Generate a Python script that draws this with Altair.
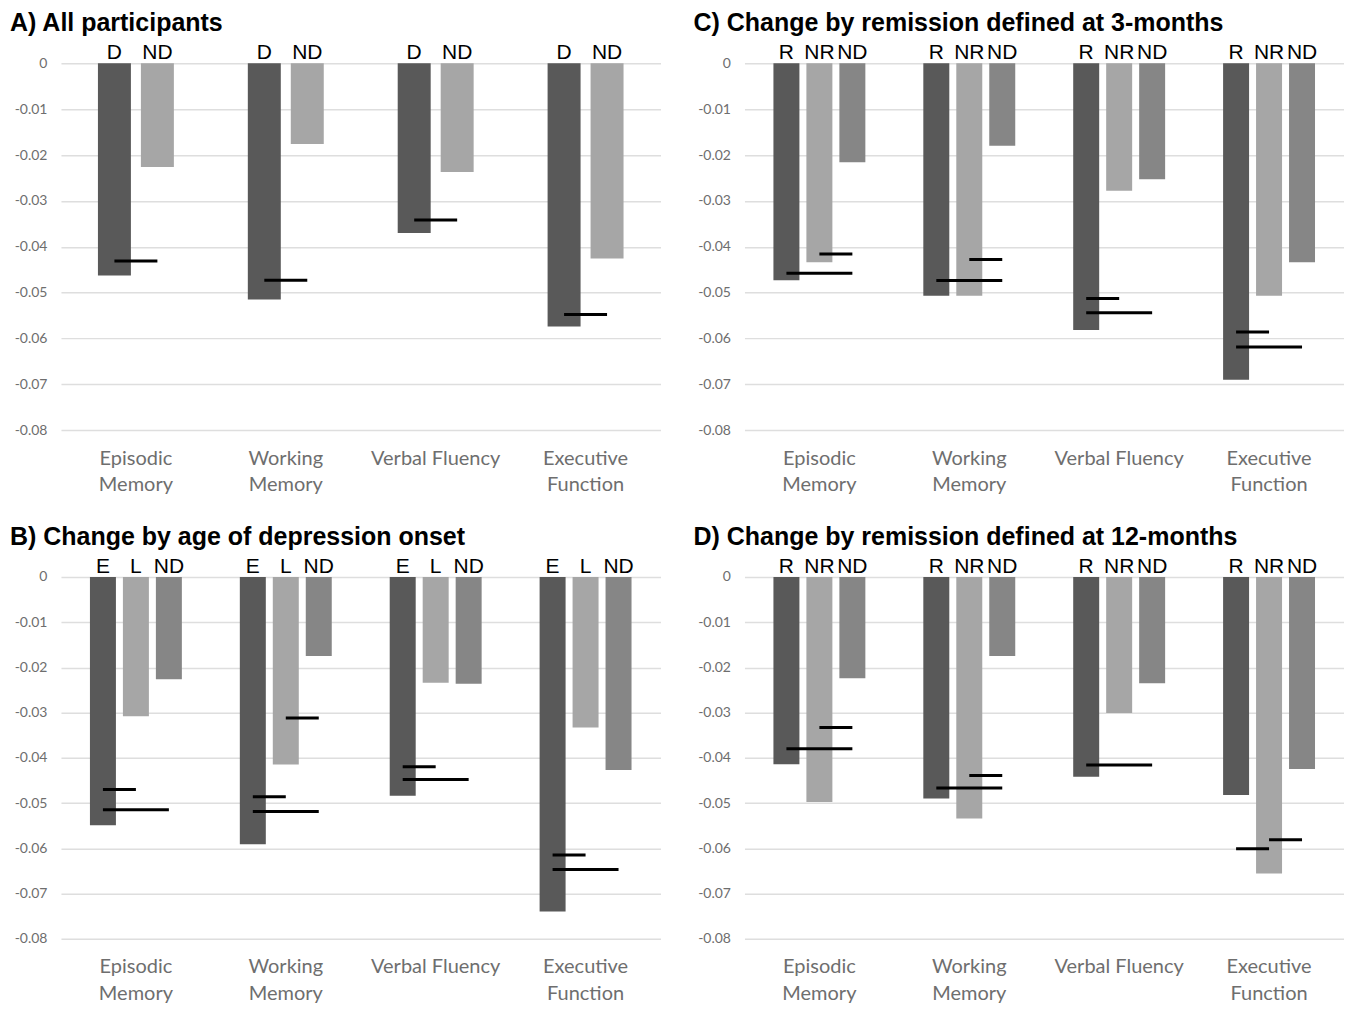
import altair as alt
import pandas as pd

categories = ["Episodic Memory", "Working Memory", "Verbal Fluency", "Executive Function"]

# Panel A: All participants
a_title = "A) All participants"
a_groups = ["D", "ND"]
a_D = [-0.0463, -0.0515, -0.0370, -0.0574]
a_ND = [-0.0226, -0.0176, -0.0237, -0.0426]
a_lines = [
    ("Episodic Memory", "D", "ND", -0.0431),
    ("Working Memory", "D", "ND", -0.0473),
    ("Verbal Fluency", "D", "ND", -0.0342),
    ("Executive Function", "D", "ND", -0.0548),
]

# Panel B: Change by age of depression onset
b_title = "B) Change by age of depression onset"
b_groups = ["E", "L", "ND"]
b_E = [-0.0549, -0.0591, -0.0484, -0.0740]
b_L = [-0.0308, -0.0415, -0.0234, -0.0333]
b_ND = [-0.0226, -0.0175, -0.0236, -0.0427]
b_lines = [
    ("Episodic Memory", "E", "L", -0.0470),
    ("Episodic Memory", "E", "ND", -0.0515),
    ("Working Memory", "E", "L", -0.0486),
    ("Working Memory", "E", "ND", -0.0519),
    ("Working Memory", "L", "ND", -0.0312),
    ("Verbal Fluency", "E", "L", -0.0420),
    ("Verbal Fluency", "E", "ND", -0.0448),
    ("Executive Function", "E", "L", -0.0615),
    ("Executive Function", "E", "ND", -0.0647),
]

# Panel C: Change by remission defined at 3-months
c_title = "C) Change by remission defined at 3-months"
c_groups = ["R", "NR", "ND"]
c_R = [-0.0473, -0.0507, -0.0582, -0.0690]
c_NR = [-0.0434, -0.0507, -0.0278, -0.0507]
c_ND = [-0.0216, -0.0180, -0.0253, -0.0434]
c_lines = [
    ("Episodic Memory", "NR", "ND", -0.0416),
    ("Episodic Memory", "R", "ND", -0.0458),
    ("Working Memory", "NR", "ND", -0.0428),
    ("Working Memory", "R", "ND", -0.0474),
    ("Verbal Fluency", "R", "NR", -0.0513),
    ("Verbal Fluency", "R", "ND", -0.0544),
    ("Executive Function", "R", "NR", -0.0586),
    ("Executive Function", "R", "ND", -0.0619),
]

# Panel D: Change by remission defined at 12-months
d_title = "D) Change by remission defined at 12-months"
d_groups = ["R", "NR", "ND"]
d_R = [-0.0414, -0.0490, -0.0442, -0.0482]
d_NR = [-0.0498, -0.0534, -0.0301, -0.0656]
d_ND = [-0.0224, -0.0175, -0.0235, -0.0425]
d_lines = [
    ("Episodic Memory", "NR", "ND", -0.0333),
    ("Episodic Memory", "R", "ND", -0.0380),
    ("Working Memory", "NR", "ND", -0.0439),
    ("Working Memory", "R", "ND", -0.0467),
    ("Verbal Fluency", "R", "ND", -0.0416),
    ("Executive Function", "R", "NR", -0.0601),
    ("Executive Function", "NR", "ND", -0.0581),
]

DARK = "#595959"
LIGHT = "#a6a6a6"
MID = "#868686"
AXIS_GRAY = "#6e6e6e"
y_ticks = [0, -0.01, -0.02, -0.03, -0.04, -0.05, -0.06, -0.07, -0.08]


def make_panel(title, groups, series, lines, colors, height):
    rows = []
    for g, vals in zip(groups, series):
        for c, v in zip(categories, vals):
            rows.append({"category": c, "group": g, "value": v})
    bars_df = pd.DataFrame(rows)
    line_rows = []
    for i, (c, g1, g2, v) in enumerate(lines):
        line_rows.append({"id": i, "category": c, "group": g1, "value": v})
        line_rows.append({"id": i, "category": c, "group": g2, "value": v})
    line_df = pd.DataFrame(line_rows)
    lab_df = pd.DataFrame([{"category": c, "group": g} for c in categories for g in groups])

    if len(groups) == 2:
        pi, po = 0.2326, 0.8605
    else:
        pi, po = 0.212, 0.879

    x_enc = alt.X(
        "category:N",
        sort=categories,
        scale=alt.Scale(paddingInner=0, paddingOuter=0),
        axis=alt.Axis(
            title=None, domain=False, ticks=False, labelAngle=0,
            labelFont="Lato", labelFontSize=20, labelColor=AXIS_GRAY,
            labelPadding=18, labelLineHeight=27,
            labelExpr="datum.label == 'Verbal Fluency' ? datum.label : split(datum.label, ' ')",
        ),
    )
    xo_enc = alt.XOffset("group:N", sort=groups, scale=alt.Scale(paddingInner=pi, paddingOuter=po))
    y_enc = alt.Y(
        "value:Q",
        scale=alt.Scale(domain=[-0.08, 0], nice=False),
        axis=alt.Axis(
            title=None, domain=False, ticks=False, values=y_ticks,
            labelExpr="datum.value == 0 ? '0' : '-0.0' + round(-datum.value * 100)",
            labelFont="Lato", labelFontSize=14, labelColor=AXIS_GRAY,
            labelPadding=14, minExtent=53,
            grid=True, gridColor="#dedede", gridWidth=1.5,
        ),
    )

    bars = alt.Chart(bars_df).mark_bar().encode(
        x=x_enc, xOffset=xo_enc, y=y_enc,
        color=alt.Color("group:N", scale=alt.Scale(domain=groups, range=colors), legend=None),
    )
    segs = alt.Chart(line_df).mark_line(color="black", strokeWidth=3).encode(
        x=alt.X("category:N", sort=categories),
        xOffset=alt.XOffset("group:N", sort=groups),
        y=alt.Y("value:Q"),
        detail="id:N",
    )
    labels = alt.Chart(lab_df).mark_text(
        baseline="alphabetic", dy=-4, fontSize=21, font="Liberation Sans", color="black"
    ).encode(
        x=alt.X("category:N", sort=categories),
        xOffset=alt.XOffset("group:N", sort=groups),
        y=alt.datum(0),
        text="group:N",
    )
    return alt.layer(bars, segs, labels).properties(
        width=600,
        height=height,
        title=alt.TitleParams(
            text=title, anchor="start", frame="group", dx=-51, offset=6,
            fontSize=25, font="Liberation Sans", fontWeight="bold", color="black",
        ),
    )


pa = make_panel(a_title, a_groups, [a_D, a_ND], a_lines, [DARK, LIGHT], 367)
pb = make_panel(b_title, b_groups, [b_E, b_L, b_ND], b_lines, [DARK, LIGHT, MID], 362)
pc = make_panel(c_title, c_groups, [c_R, c_NR, c_ND], c_lines, [DARK, LIGHT, MID], 367)
pd_ = make_panel(d_title, d_groups, [d_R, d_NR, d_ND], d_lines, [DARK, LIGHT, MID], 362)

res = dict(color="independent", xOffset="independent", x="independent", y="independent")
top = alt.hconcat(pa, pc, spacing=31).resolve_scale(**res)
bottom = alt.hconcat(pb, pd_, spacing=31).resolve_scale(**res)
chart = alt.vconcat(top, bottom, spacing=30).resolve_scale(**res).properties(
    padding={"left": 0, "top": 3, "right": 0, "bottom": 0}
).configure_view(strokeWidth=0)

chart.save("out.html", embed_options={"renderer": "svg", "actions": False})
